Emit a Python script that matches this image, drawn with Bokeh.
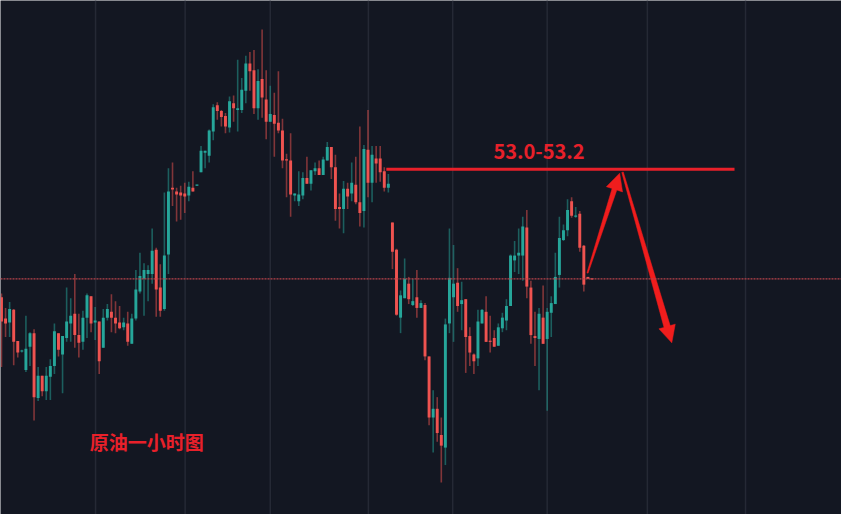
import math
import numpy as np
from bokeh.plotting import figure
from bokeh.models import Span, ColumnDataSource
from bokeh.core.properties import value
from bokeh.embed import file_html
from bokeh.resources import INLINE

# ---- data: crude oil 1-hour candles ----
open_ = [52.440, 52.330, 52.310, 52.375, 52.215, 52.160, 52.065, 52.185, 52.255, 51.920,
         52.035, 51.955, 52.030, 52.085, 52.255, 52.145, 52.230, 52.305, 52.355, 52.245,
         52.210, 52.335, 52.445, 52.310, 52.315, 52.180, 52.335, 52.365, 52.335, 52.310,
         52.285, 52.305, 52.200, 52.330, 52.470, 52.535, 52.560, 52.560, 52.685, 52.490,
         52.380, 52.660, 53.005, 52.985, 52.980, 52.975, 52.965, 53.005, 53.015, 53.085,
         53.185, 53.170, 53.295, 53.430, 53.400, 53.375, 53.315, 53.440, 53.405, 53.405,
         53.505, 53.645, 53.610, 53.415, 53.565, 53.460, 53.345, 53.380, 53.340, 53.300,
         53.150, 53.145, 52.965, 52.935, 52.965, 53.055, 53.025, 53.090, 53.105, 53.070,
         53.145, 53.215, 53.110, 52.905, 52.895, 53.000, 52.975, 53.020, 52.930, 52.885,
         53.200, 53.030, 53.155, 53.155, 53.090, 53.005, 52.825, 52.685, 52.335, 52.435,
         52.510, 52.400, 52.440, 52.385, 52.400, 52.135, 51.820, 51.865, 51.730, 51.665,
         52.305, 52.440, 52.515, 52.405, 52.430, 52.240, 52.145, 52.125, 52.305, 52.365,
         52.215, 52.230, 52.190, 52.280, 52.320, 52.395, 52.630, 52.655, 52.655, 52.800,
         52.490, 52.240, 52.225, 52.335, 52.225, 52.360, 52.405, 52.555, 52.735, 52.785,
         52.935, 52.855, 52.870, 52.705, 52.545, 52.535]
close = [52.315, 52.305, 52.380, 52.210, 52.155, 52.165, 52.175, 52.255, 51.925, 52.035,
         51.955, 52.035, 52.085, 52.265, 52.170, 52.240, 52.315, 52.345, 52.245, 52.205,
         52.335, 52.450, 52.305, 52.320, 52.110, 52.335, 52.380, 52.335, 52.305, 52.280,
         52.310, 52.210, 52.330, 52.480, 52.550, 52.580, 52.580, 52.680, 52.480, 52.370,
         52.655, 52.985, 52.995, 52.970, 52.965, 52.960, 53.010, 52.985, 53.020, 53.195,
         53.195, 53.300, 53.420, 53.400, 53.370, 53.320, 53.450, 53.415, 53.415, 53.510,
         53.645, 53.605, 53.415, 53.555, 53.470, 53.345, 53.385, 53.335, 53.300, 53.145,
         53.145, 52.970, 52.975, 52.970, 53.055, 53.025, 53.095, 53.105, 53.070, 53.150,
         53.215, 53.110, 52.895, 52.895, 53.000, 52.960, 53.030, 52.930, 52.875, 53.205,
         53.030, 53.175, 53.130, 53.085, 53.005, 53.025, 52.675, 52.350, 52.450, 52.535,
         52.430, 52.420, 52.385, 52.410, 52.135, 51.820, 51.865, 51.740, 51.675, 52.300,
         52.540, 52.510, 52.395, 52.425, 52.235, 52.155, 52.110, 52.315, 52.375, 52.210,
         52.210, 52.185, 52.285, 52.335, 52.395, 52.655, 52.655, 52.670, 52.805, 52.495,
         52.245, 52.230, 52.355, 52.200, 52.365, 52.410, 52.545, 52.745, 52.785, 52.890,
         52.860, 52.860, 52.695, 52.505, 52.535, 52.532]
high = [52.460, 52.385, 52.415, 52.380, 52.215, 52.170, 52.345, 52.260, 52.275, 52.080,
        52.035, 52.080, 52.120, 52.305, 52.255, 52.240, 52.490, 52.435, 52.560, 52.355,
        52.370, 52.460, 52.445, 52.390, 52.315, 52.380, 52.405, 52.455, 52.420, 52.395,
        52.335, 52.365, 52.355, 52.580, 52.670, 52.615, 52.605, 52.795, 52.695, 52.610,
        52.980, 53.105, 53.135, 53.005, 53.015, 53.030, 53.035, 53.090, 53.020, 53.220,
        53.195, 53.305, 53.435, 53.445, 53.405, 53.390, 53.475, 53.480, 53.665, 53.570,
        53.685, 53.705, 53.715, 53.615, 53.820, 53.610, 53.530, 53.495, 53.605, 53.360,
        53.180, 53.285, 52.975, 53.090, 53.085, 53.165, 53.095, 53.135, 53.145, 53.165,
        53.240, 53.215, 53.175, 52.975, 53.040, 53.030, 53.135, 53.165, 53.320, 53.225,
        53.405, 53.220, 53.220, 53.220, 53.110, 53.075, 52.825, 52.690, 52.475, 52.640,
        52.545, 52.535, 52.580, 52.425, 52.410, 52.135, 51.960, 51.925, 51.820, 52.330,
        52.795, 52.710, 52.590, 52.520, 52.430, 52.285, 52.150, 52.375, 52.380, 52.445,
        52.345, 52.270, 52.305, 52.360, 52.430, 52.660, 52.730, 52.795, 52.855, 52.890,
        52.525, 52.365, 52.385, 52.500, 52.385, 52.445, 52.670, 52.855, 52.815, 52.945,
        52.955, 52.905, 52.885, 52.710, 52.545, 52.535]
low = [52.080, 52.235, 52.235, 52.090, 52.130, 52.155, 52.055, 52.085, 51.805, 51.905,
       51.930, 51.910, 51.910, 52.045, 52.135, 51.945, 52.210, 52.210, 52.180, 52.130,
       52.170, 52.230, 52.260, 52.220, 52.045, 52.180, 52.320, 52.260, 52.255, 52.275,
       52.270, 52.190, 52.200, 52.320, 52.460, 52.345, 52.420, 52.510, 52.340, 52.340,
       52.370, 52.560, 52.910, 52.830, 52.840, 52.875, 52.935, 52.985, 53.015, 53.085,
       53.105, 53.135, 53.250, 53.355, 53.320, 53.285, 53.290, 53.345, 53.295, 53.390,
       53.440, 53.505, 53.385, 53.355, 53.365, 53.255, 53.345, 53.165, 53.285, 53.105,
       52.955, 52.855, 52.935, 52.910, 52.945, 53.025, 52.990, 53.070, 53.070, 53.070,
       53.145, 53.050, 52.835, 52.795, 52.770, 52.895, 52.935, 52.920, 52.805, 52.800,
       52.955, 52.930, 53.030, 53.035, 52.985, 52.980, 52.585, 52.345, 52.255, 52.435,
       52.405, 52.395, 52.335, 52.385, 52.115, 51.780, 51.640, 51.695, 51.485, 51.575,
       52.255, 52.210, 52.365, 52.270, 52.050, 52.085, 52.045, 52.085, 52.305, 52.210,
       52.155, 52.185, 52.190, 52.260, 52.270, 52.395, 52.570, 52.560, 52.525, 52.435,
       52.200, 52.085, 51.960, 52.200, 51.855, 52.235, 52.405, 52.490, 52.730, 52.755,
       52.850, 52.850, 52.675, 52.470, 52.535, 52.530]

grid_x = [23.1, 45.1, 66.0, 90.1, 110.8, 134.0, 158.6, 182.7]   # time grid (bar index)
last_price = 52.535
zone_price = 53.10
zone_label = "53.0-53.2"
zone_start, zone_end = 94.5, 180.0
label_pos = (132.0, 53.19)
title_text = "原油一小时图"
title_pos = (35.7, 51.695)
arrow_up = [(143.9, 52.565), (151.8, 53.080)]
arrow_down = [(152.5, 53.085), (164.6, 52.205)]

# ---- figure ----
W, H = 841, 514
x0, x1 = -0.24, 206.27
y0, y1 = 51.32, 53.97
BG = "#131722"
UP, DN = "#26a69a", "#ef5350"
RED = "#f01d1d"

p = figure(width=W, height=H, x_range=(x0, x1), y_range=(y0, y1),
           output_backend="svg", toolbar_location=None, min_border=0,
           background_fill_color=BG, border_fill_color=BG)
p.outline_line_color = None
p.xaxis.visible = False
p.yaxis.visible = False
p.xgrid.visible = False
p.ygrid.visible = False

for gx in grid_x:
    p.add_layout(Span(location=gx, dimension="height", line_color="#252935",
                      line_width=1.5, level="underlay"))

o = np.array(open_); c = np.array(close)
h = np.maximum(np.array(high), np.maximum(o, c))
l = np.minimum(np.array(low), np.minimum(o, c))
idx = np.arange(len(o))
top = np.maximum(o, c); bot = np.minimum(o, c)
top = np.where(top - bot < 0.006, bot + 0.006, top)
inc = c >= o

for mask, col in ((inc, UP), (~inc, DN)):
    src = ColumnDataSource(dict(x=idx[mask], h=h[mask], l=l[mask],
                                top=top[mask], bot=bot[mask]))
    p.segment(x0="x", y0="h", x1="x", y1="l", source=src,
              line_color=col, line_alpha=0.5, line_width=1.6)
    p.vbar(x="x", width=0.72, top="top", bottom="bot", source=src,
           fill_color=col, line_color=None)

p.add_layout(Span(location=last_price, dimension="width", line_color="#b8434b",
                  line_width=1.3, line_dash="2 1"))

# resistance zone line + label
p.segment(x0=[zone_start], y0=[zone_price], x1=[zone_end], y1=[zone_price],
          line_color="#e8202a", line_width=3)
p.text(x=[label_pos[0]], y=[label_pos[1]], text=[zone_label],
       text_font=value("Noto Sans CJK SC"), text_font_style="bold",
       text_font_size="20px", text_color="#e8202a",
       text_align="center", text_baseline="middle")

# arrows (drawn in pixel space, converted back to data)
sx = W / (x1 - x0); sy = H / (y1 - y0)

def arrow_patch(tail, tip, w0, w1, hl, hw):
    tx, ty = tail[0] * sx, tail[1] * sy
    px, py = tip[0] * sx, tip[1] * sy
    dx, dy = px - tx, py - ty
    L = math.hypot(dx, dy)
    ux, uy = dx / L, dy / L
    nx, ny = -uy, ux
    bx, by = px - ux * hl, py - uy * hl
    pts = [(tx + nx * w0, ty + ny * w0), (bx + nx * w1, by + ny * w1),
           (bx + nx * hw, by + ny * hw), (px, py),
           (bx - nx * hw, by - ny * hw), (bx - nx * w1, by - ny * w1),
           (tx - nx * w0, ty - ny * w0)]
    return [a / sx for a, _ in pts], [b / sy for _, b in pts]

xs1, ys1 = arrow_patch(arrow_up[0], arrow_up[1], 0.6, 2.5, 17, 8.5)
xs2, ys2 = arrow_patch(arrow_down[0], arrow_down[1], 0.8, 3.2, 17, 8.5)
p.patches(xs=[xs1, xs2], ys=[ys1, ys2], fill_color=RED, line_color=RED, line_width=0.5)

p.text(x=[title_pos[0]], y=[title_pos[1]], text=[title_text],
       text_font=value("Noto Sans CJK SC"), text_font_style="bold",
       text_font_size="19px", text_color="#e8202a",
       text_align="center", text_baseline="middle")

open("out.html", "w").write(file_html(p, INLINE))
